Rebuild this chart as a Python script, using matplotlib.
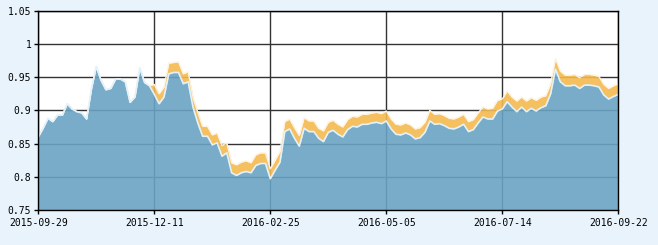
import matplotlib
matplotlib.use('Agg')
import matplotlib.pyplot as plt

# x tick labels (one every 24 trading days)
tick_labels = ['2015-09-29', '2015-12-11', '2016-02-25', '2016-05-05', '2016-07-14', '2016-09-22']
tick_step = 24

# unit net value (blue)
unit_nav = [
    0.860, 0.873, 0.888, 0.883, 0.893, 0.893, 0.910, 0.902, 0.898, 0.896,
    0.887, 0.932, 0.966, 0.945, 0.931, 0.933, 0.947, 0.947, 0.943, 0.912,
    0.920, 0.964, 0.942, 0.937, 0.924, 0.910, 0.920, 0.955, 0.957, 0.957,
    0.940, 0.943, 0.905, 0.881, 0.861, 0.861, 0.848, 0.851, 0.831, 0.836,
    0.806, 0.802, 0.806, 0.808, 0.806, 0.817, 0.820, 0.820, 0.797, 0.810,
    0.822, 0.868, 0.872, 0.858, 0.846, 0.873, 0.868, 0.868, 0.858, 0.853,
    0.867, 0.870, 0.864, 0.860, 0.871, 0.876, 0.875, 0.879, 0.879, 0.881,
    0.882, 0.880, 0.884, 0.872, 0.864, 0.863, 0.866, 0.863, 0.857, 0.859,
    0.867, 0.884, 0.879, 0.880, 0.877, 0.873, 0.872, 0.875, 0.879, 0.868,
    0.871, 0.881, 0.890, 0.887, 0.887, 0.899, 0.902, 0.913, 0.905, 0.898,
    0.905, 0.898, 0.903, 0.899, 0.904, 0.907, 0.925, 0.962, 0.943, 0.937,
    0.937, 0.938, 0.933, 0.938, 0.938, 0.937, 0.935, 0.923, 0.917, 0.921,
    0.924,
]

# accumulated net value (orange)
acc_nav = [
    0.860, 0.873, 0.888, 0.883, 0.893, 0.893, 0.910, 0.902, 0.898, 0.896,
    0.887, 0.932, 0.966, 0.945, 0.931, 0.933, 0.947, 0.947, 0.943, 0.912,
    0.920, 0.964, 0.942, 0.937, 0.939, 0.925, 0.935, 0.971, 0.972, 0.973,
    0.955, 0.958, 0.920, 0.897, 0.876, 0.876, 0.863, 0.866, 0.847, 0.851,
    0.821, 0.818, 0.822, 0.824, 0.821, 0.833, 0.836, 0.836, 0.812, 0.825,
    0.838, 0.883, 0.887, 0.874, 0.862, 0.889, 0.884, 0.884, 0.873, 0.869,
    0.882, 0.885, 0.879, 0.875, 0.886, 0.891, 0.890, 0.894, 0.894, 0.896,
    0.897, 0.895, 0.899, 0.887, 0.879, 0.878, 0.881, 0.878, 0.872, 0.874,
    0.882, 0.900, 0.894, 0.895, 0.892, 0.888, 0.887, 0.890, 0.894, 0.883,
    0.886, 0.896, 0.905, 0.902, 0.903, 0.915, 0.917, 0.929, 0.920, 0.914,
    0.920, 0.914, 0.919, 0.915, 0.920, 0.922, 0.940, 0.978, 0.959, 0.953,
    0.953, 0.954, 0.949, 0.954, 0.954, 0.953, 0.951, 0.939, 0.933, 0.937,
    0.940,
]

y_ticks = [0.75, 0.8, 0.85, 0.9, 0.95, 1.0, 1.05]
y_labels = ['0.75', '0.8', '0.85', '0.9', '0.95', '1', '1.05']

x = list(range(len(unit_nav)))
ymin = 0.75

fig = plt.figure(figsize=(6.58, 2.45), dpi=100)
fig.patch.set_facecolor('#e8f3fb')
ax = fig.add_axes([0.0582, 0.1429, 0.8815, 0.8134])
ax.set_facecolor('white')
ax.set_axisbelow(True)

ax.fill_between(x, unit_nav, acc_nav, color='#f4b94f', alpha=0.9, lw=0)
ax.fill_between(x, ymin, unit_nav, color='#6aa3c2', alpha=0.9, lw=0)
ax.plot(x, acc_nav, color='#fdf3e0', lw=1.0)
ax.plot(x, unit_nav, color='#e2f1fa', lw=1.2)

ax.set_xlim(0, len(unit_nav) - 1)
ax.set_ylim(ymin, 1.05)
ax.set_xticks(range(0, len(unit_nav), tick_step))
ax.set_xticklabels(tick_labels)
ax.set_yticks(y_ticks)
ax.set_yticklabels(y_labels)
ax.grid(True, color='#333333', lw=1)

for lab in ax.get_xticklabels() + ax.get_yticklabels():
    lab.set_family('DejaVu Sans Mono')
    lab.set_fontsize(7)
    lab.set_color('black')
ax.tick_params(axis='x', direction='out', length=3, width=1, pad=3)
ax.tick_params(axis='y', direction='out', length=3, width=1, pad=2)
for s in ax.spines.values():
    s.set_color('black')
    s.set_linewidth(1)

plt.savefig('out.png', dpi=100, facecolor=fig.get_facecolor())
